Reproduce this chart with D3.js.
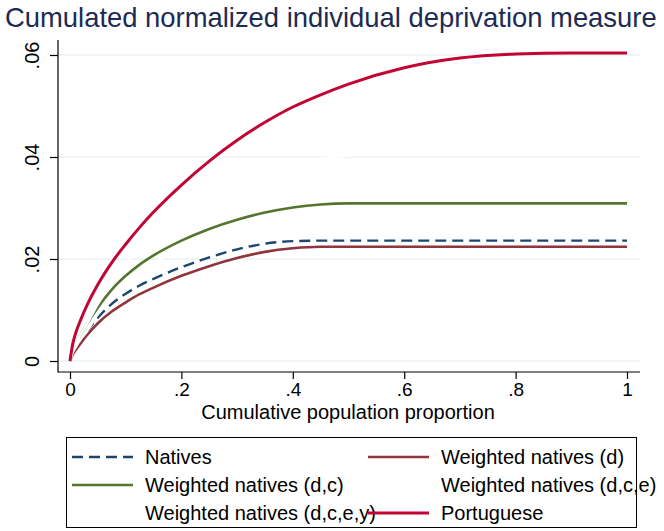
<!DOCTYPE html>
<html>
<head>
<meta charset="utf-8">
<script src="https://cdn.jsdelivr.net/npm/d3@7"></script>
<style>
  body { margin: 0; background: #fff; }
  svg { display: block; font-family: "Liberation Sans", Arial, sans-serif; }
</style>
</head>
<body>
<svg width="664" height="531"></svg>
<script>
// population proportion grid (shared by all series)
const popShare = [0, 0.005, 0.01, 0.02, 0.03, 0.05, 0.075, 0.1, 0.125, 0.15, 0.2, 0.25, 0.3, 0.35, 0.4, 0.45, 0.5, 0.6, 0.7, 0.8, 0.9, 1]

// cumulated deprivation per group
const natives      = [0, .0017, .0027, .0044, .0058, .0085, .0112, .0132, .0148, .0161, .0184, .0203, .0219, .0230, .0235, .0236, .0236, .0236, .0236, .0236, .0236, .0236]
const weightedD    = [0, .0013, .0021, .0036, .0050, .0074, .0097, .0115, .0131, .0144, .0167, .0186, .0202, .0214, .0221, .0224, .0224, .0224, .0224, .0224, .0224, .0224]
const weightedDC   = [0, .0022, .0034, .0054, .0072, .0105, .0140, .0167, .0189, .0207, .0236, .0259, .0277, .0291, .0301, .0307, .0309, .0309, .0309, .0309, .0309, .0309]
// these two are drawn in white in the original, so only their overlaps show
const weightedDCE  = [0, .0022, .0034, .0054, .0072, .0112, .0155, .0190, .0220, .0246, .0290, .0325, .0352, .0372, .0387, .0397, .0403, .0408, .0410, .0410, .0410, .0410]
const weightedDCEY = [0, .0017, .0027, .0044, .0058, .0092, .0124, .0150, .0172, .0191, .0222, .0245, .0261, .0270, .0275, .0277, .0277, .0277, .0277, .0277, .0277, .0277]
const portuguese   = [0, .0034, .0054, .0083, .0108, .0150, .0193, .0229, .0262, .0292, .0345, .0392, .0433, .0468, .0498, .0522, .0543, .0575, .0594, .0602, .0604, .0604]

const xTicks = [0, .2, .4, .6, .8, 1]
const xTickLabels = ["0", ".2", ".4", ".6", ".8", "1"]
const yTicks = [0, .02, .04, .06]
const yTickLabels = ["0", ".02", ".04", ".06"]

// series in legend order (Stata fills rows left to right)
const series = [
  { name: "Natives", values: natives, colour: "#1a476f", dash: "11,6", width: 2.4 },
  { name: "Weighted natives (d)", values: weightedD, colour: "#90353b", dash: null, width: 2.6 },
  { name: "Weighted natives (d,c)", values: weightedDC, colour: "#55752f", dash: null, width: 2.6 },
  { name: "Weighted natives (d,c,e)", values: weightedDCE, colour: "#ffffff", dash: null, width: 2.6 },
  { name: "Weighted natives (d,c,e,y)", values: weightedDCEY, colour: "#ffffff", dash: null, width: 2.6 },
  { name: "Portuguese", values: portuguese, colour: "#c10534", dash: null, width: 3 }
]

const svg = d3.select("svg")

const x = d3.scaleLinear().domain([0, 1]).range([70, 627])
const y = d3.scaleLinear().domain([0, .06]).range([361, 55])

// title
svg.append("text")
  .attr("x", 5).attr("y", 27)
  .attr("font-size", 27.4)
  .attr("fill", "#1c2b52")
  .text("Cumulated normalized individual deprivation measure")

// grid lines
svg.append("g").selectAll("line")
  .data(yTicks)
  .enter().append("line")
  .attr("x1", 58).attr("x2", 640)
  .attr("y1", d => y(d)).attr("y2", d => y(d))
  .attr("stroke", "#eaf2f3").attr("stroke-width", 1.5)

// y axis
const yAxis = svg.append("g")
  .attr("transform", "translate(58,0)")
  .call(d3.axisLeft(y).tickValues(yTicks).tickFormat((d, i) => yTickLabels[i]).tickSize(8).tickSizeOuter(0))
yAxis.select(".domain").remove()
yAxis.selectAll(".tick line").attr("stroke", "#000").attr("stroke-width", 1.2)
yAxis.selectAll(".tick text")
  .attr("font-size", 20).attr("fill", "#000")
  .attr("text-anchor", "middle")
  .attr("transform", "translate(-19,0) rotate(-90)")
  .attr("x", 0).attr("dy", 0)

// x axis
const xAxis = svg.append("g")
  .attr("transform", "translate(0,372)")
  .call(d3.axisBottom(x).tickValues(xTicks).tickFormat((d, i) => xTickLabels[i]).tickSize(7).tickSizeOuter(0).tickPadding(4))
xAxis.select(".domain").remove()
xAxis.selectAll(".tick line").attr("stroke", "#000").attr("stroke-width", 1.2)
xAxis.selectAll(".tick text").attr("font-size", 19).attr("fill", "#000")

// axis lines
svg.append("line").attr("x1", 58).attr("x2", 58).attr("y1", 40).attr("y2", 372.5)
  .attr("stroke", "#000").attr("stroke-width", 1.2)
svg.append("line").attr("x1", 58).attr("x2", 640).attr("y1", 372).attr("y2", 372)
  .attr("stroke", "#000").attr("stroke-width", 1.2)

svg.append("text")
  .attr("x", 348).attr("y", 419)
  .attr("text-anchor", "middle")
  .attr("font-size", 20)
  .text("Cumulative population proportion")

// curves
const line = d3.line()
  .x((d, i) => x(popShare[i]))
  .y(d => y(d))
  .curve(d3.curveMonotoneX)

svg.append("g").selectAll("path")
  .data(series)
  .enter().append("path")
  .attr("d", d => line(d.values))
  .attr("fill", "none")
  .attr("stroke", d => d.colour)
  .attr("stroke-width", d => d.width)
  .attr("stroke-dasharray", d => d.dash)

// legend
svg.append("rect")
  .attr("x", 66.5).attr("y", 437.5).attr("width", 570).attr("height", 90)
  .attr("fill", "none").attr("stroke", "#000").attr("stroke-width", 1)

const colX = [72, 368], rowY = [457, 485, 513]
const items = svg.append("g").selectAll("g")
  .data(series)
  .enter().append("g")
  .attr("transform", (d, i) => "translate(" + colX[i % 2] + "," + rowY[Math.floor(i / 2)] + ")")

items.append("line")
  .attr("x1", 0).attr("x2", 61)
  .attr("stroke", d => d.colour)
  .attr("stroke-width", d => d.width)
  .attr("stroke-dasharray", d => d.dash)

items.append("text")
  .attr("x", 73).attr("dy", "0.35em")
  .attr("font-size", 20)
  .text(d => d.name)
</script>
</body>
</html>
